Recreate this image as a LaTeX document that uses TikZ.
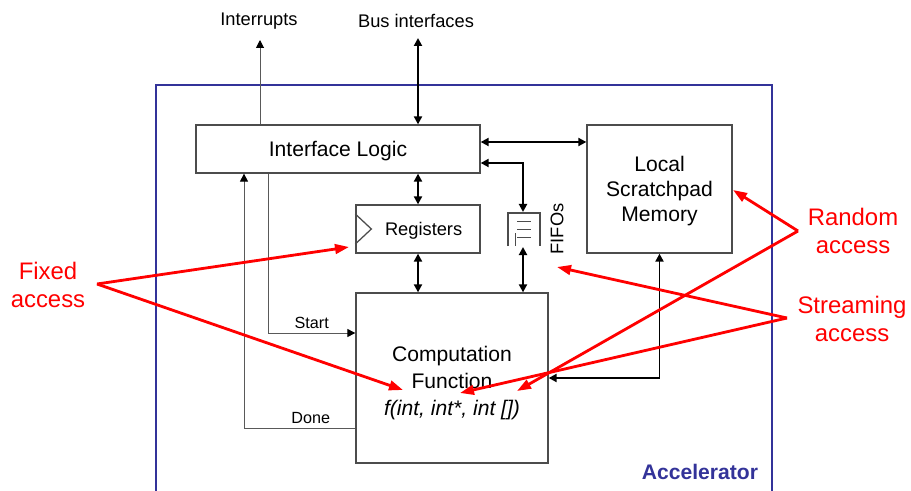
\documentclass[tikz,border=0pt]{standalone}
\usepackage{fontspec}
\setmainfont{Liberation Sans}
\usetikzlibrary{positioning,arrows.meta}
\definecolor{accblue}{RGB}{51,51,153}

\begin{document}
\begin{tikzpicture}[
  x=0.025cm, y=-0.025cm,
  >={Triangle[length=2mm,width=2mm]},
  blk/.style={rectangle, draw=black!70, line width=0.9pt, align=center, inner sep=0pt, text depth=0pt},
  bus/.style={<->, line width=1.4pt},
  ctl/.style={-{Triangle[length=2mm,width=2mm,color=black]}, draw=black!65, line width=0.7pt},
  note/.style={-{Triangle[length=3.5mm,width=2.4mm]}, draw=red, fill=red, line width=2pt},
  lbl/.style={font=\fontsize{11.5}{14}\selectfont, inner sep=1pt},
  toplbl/.style={font=\fontsize{13}{16}\selectfont},
  rednote/.style={text=red, align=center, font=\fontsize{17}{20}\selectfont}
]
\useasboundingbox (0,0) rectangle (911,491);

% accelerator frame
\draw[accblue, line width=1.5pt] (156,491) -- (156,85) -- (772,85) -- (772,491);
\node[font=\bfseries\fontsize{15}{18}\selectfont, text=accblue, anchor=east] (acc) at (763,472) {Accelerator};

% blocks
\node[blk, minimum width=7.1cm, minimum height=1.2cm, font=\fontsize{15}{18}\selectfont] (iface) at (338,149) {Interface Logic};
\node[blk, minimum width=3.625cm, minimum height=3.2cm, font=\fontsize{15}{18}\selectfont] (mem) at (659.5,189) {Local\\Scratchpad\\Memory};
\node[blk, minimum width=3.1cm, minimum height=1.2cm, font=\fontsize{13}{16}\selectfont] (regs) at (418,229) {\hspace{8pt}Registers};
\node[blk, minimum width=4.8cm, minimum height=4.25cm] (comp) at (452,378) {};
\node[align=center, font=\fontsize{15}{19}\selectfont, text depth=0pt] (compfn) at (452,381) {Computation\\Function\\\textit{f(int, int*, int [])}};
\draw[black!70, line width=0.9pt] (regs.west) ++(0,-15) -- ++(16,15) -- ++(-16,15);

% fifo
\coordinate (fifotop) at (523,212);
\coordinate (fifobot) at (523,247);
\draw[black!70, line width=0.9pt] (508,246) -- (508,213) -- (540,213) -- (540,246);
\foreach \y in {221,229,237}
  \draw[black!70, line width=0.7pt] (517,\y) -- (531,\y);
\draw[black!70, line width=0.7pt] (515,233) -- (515,246);
\node[rotate=90, toplbl] (fifolbl) at (557,229) {FIFOs};

% outside
\node[toplbl] (irq) at (259,21) {Interrupts};
\node[toplbl] (bus) at (416,21) {Bus interfaces};
\coordinate (irqtop) at (260,40);
\coordinate (bustop) at (418,38);
\draw[ctl] (irqtop |- iface.north) -- (irqtop);
\draw[bus] (bustop) -- (bustop |- iface.north);

% data paths
\draw[bus] ([shift={(0,-7)}]iface.east) -- ([shift={(0,-7)}]iface.east -| mem.west);
\draw[bus] ([shift={(0,14)}]iface.east) -| (fifotop);
\draw[bus] (fifobot) -- (fifobot |- comp.north);
\draw[bus] (regs.north |- iface.south) -- (regs.north);
\draw[bus] (regs.south) -- (regs.south |- comp.north);
\draw[bus] (mem.south) |- (comp.east);

% control
\draw[ctl] (iface.south -| 268,0) |- node[lbl, pos=0.75, above=1.5pt] {Start} ([shift={(0,-45)}]comp.west);
\draw[ctl] ([shift={(0,50)}]comp.west) -| node[lbl, pos=0.2, above=1.5pt] {Done} (iface.south -| 244,0);

% annotations
\node[rednote] (fixed) at (48,285) {Fixed\\access};
\node[rednote] (random) at (853,231) {Random\\access};
\node[rednote] (stream) at (852,319) {Streaming\\access};
\coordinate (fixedpt) at (97,284);
\coordinate (randompt) at (798,231);
\coordinate (streampt) at (787,318);
\coordinate (regsin) at (349,247);
\coordinate (argone) at (403,390);
\coordinate (argtwo) at (460,393);
\coordinate (argthree) at (517,391);
\coordinate (fifoin) at (557,267);
\coordinate (memin) at (733,190);
\draw[note] (fixedpt) -- (regsin);
\draw[note] (fixedpt) -- (argone);
\draw[note] (randompt) -- (memin);
\draw[note] (randompt) -- (argthree);
\draw[note] (streampt) -- (fifoin);
\draw[note] (streampt) -- (argtwo);
\end{tikzpicture}
\end{document}
